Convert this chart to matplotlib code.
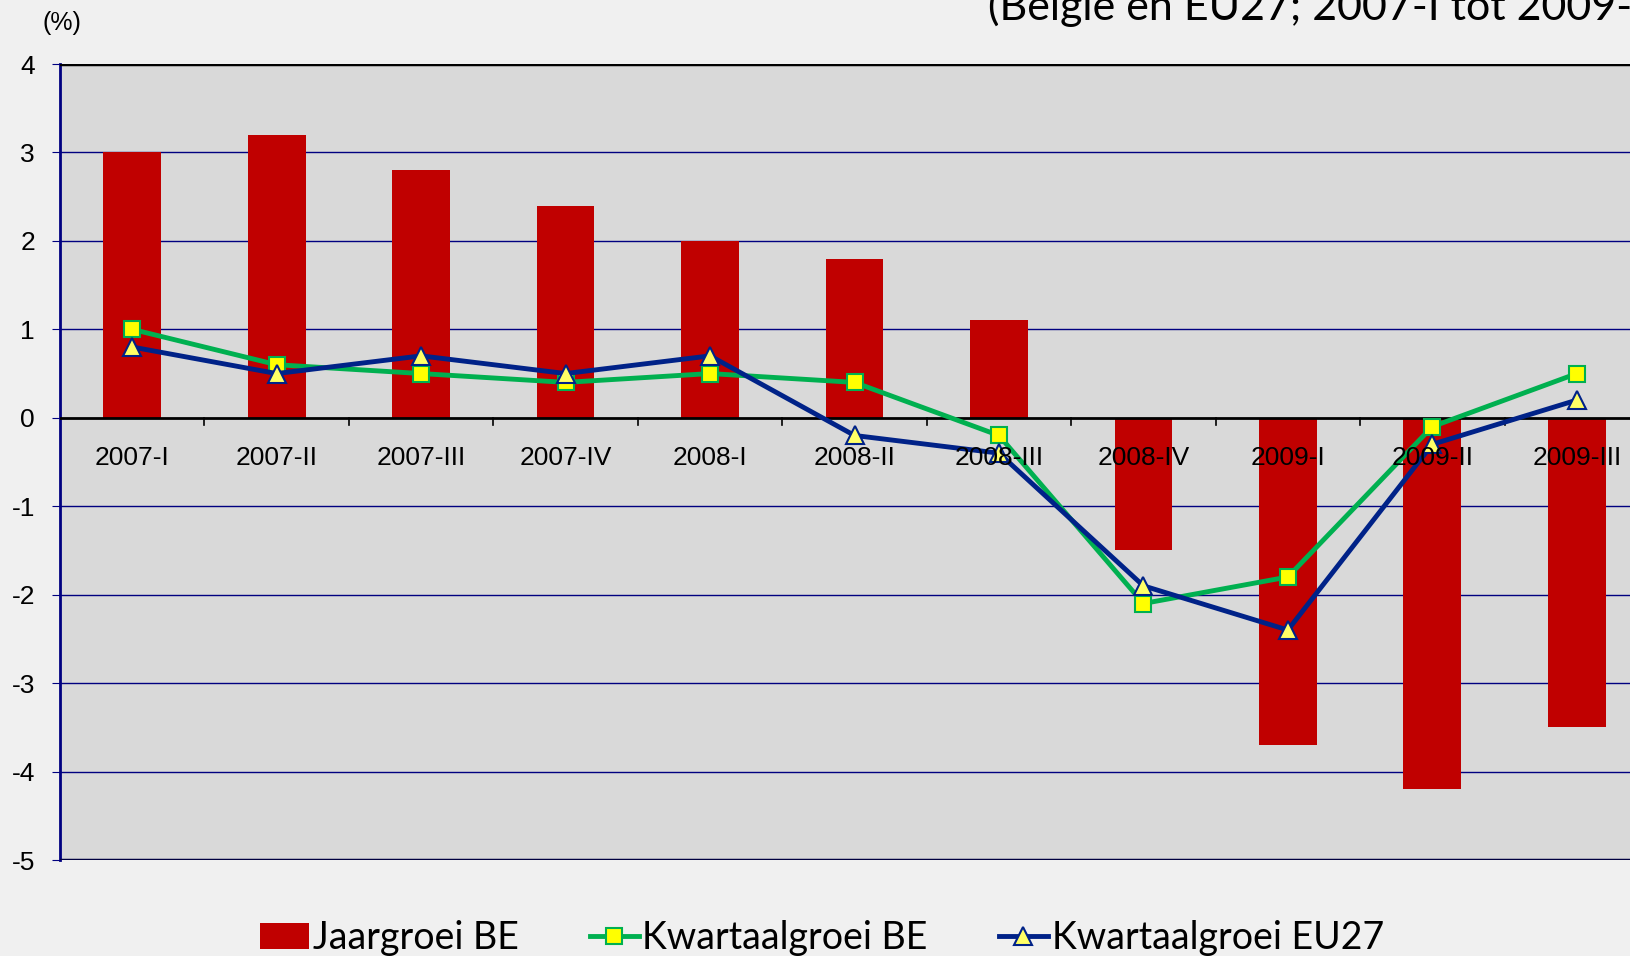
import matplotlib.pyplot as plt
import numpy as np

kwartalen = ['2007-I', '2007-II', '2007-III', '2007-IV', '2008-I', '2008-II',
             '2008-III', '2008-IV', '2009-I', '2009-II', '2009-III']
jaargroei_be = [3.0, 3.2, 2.8, 2.4, 2.0, 1.8, 1.1, -1.5, -3.7, -4.2, -3.5]
kwartaal_be = [1.0, 0.6, 0.5, 0.4, 0.5, 0.4, -0.2, -2.1, -1.8, -0.1, 0.5]
kwartaal_eu27 = [0.8, 0.5, 0.7, 0.5, 0.7, -0.2, -0.4, -1.9, -2.4, -0.3, 0.2]

plt.rcParams['axes.unicode_minus'] = False

x = np.arange(len(kwartalen))

fig = plt.figure(figsize=(16.31, 9.56), dpi=100, facecolor='#f0f0f0')
# plot area runs past the right edge, as in the cropped original
ax = fig.add_axes([60 / 1631, 1 - 860 / 956, 1589 / 1631, 796 / 956])
ax.set_facecolor('#d9d9d9')

bars = ax.bar(x, jaargroei_be, width=0.4, color='#c00000', zorder=2,
              label='Jaargroei BE')
l1, = ax.plot(x, kwartaal_be, color='#00b050', lw=3.5, marker='s', ms=12,
              mfc='#ffff00', mec='#00b050', mew=1.5, zorder=4,
              label='Kwartaalgroei BE')
l2, = ax.plot(x, kwartaal_eu27, color='#002288', lw=3.5, marker='^', ms=13,
              mfc='#ffff66', mec='#002288', mew=1.5, zorder=5,
              label='Kwartaalgroei EU27')

ax.set_ylim(-5, 4)
ax.set_xlim(-0.5, 10.5)
ax.set_yticks(range(-5, 5))
for v in range(-4, 4):
    if v != 0:
        ax.axhline(v, color='#000080', lw=1, zorder=1)
ax.axhline(4, color='black', lw=2.5, zorder=3)
ax.axhline(-5, color='#000040', lw=2.5, zorder=3)
ax.axhline(0, color='black', lw=2, zorder=3)

for s in ['top', 'right', 'bottom']:
    ax.spines[s].set_visible(False)
ax.spines['left'].set_color('#000080')
ax.spines['left'].set_linewidth(2)

ax.tick_params(axis='y', direction='out', length=6, color='#000080',
               labelsize=19, pad=12)
for lab in ax.get_yticklabels():
    lab.set_fontfamily('Liberation Sans')

ax.set_xticks([])
for i, k in enumerate(kwartalen):
    ax.text(i, -0.45, k, ha='center', va='center', fontsize=19,
            family='Liberation Sans', zorder=6)
for i in range(len(kwartalen) - 1):
    ax.plot([i + 0.5, i + 0.5], [0, -0.08], color='black', lw=1.2, zorder=3)

fig.text(62 / 1631, 1 - 23 / 956, '(%)', ha='center', va='center',
         fontsize=18, family='Liberation Sans')
fig.text(988 / 1631, 1 - 20 / 956, '(België en EU27; 2007-I tot 2009-III)',
         ha='left', va='baseline', fontsize=31, family='Lato')

fig.legend([bars, l1, l2], ['Jaargroei BE', 'Kwartaalgroei BE', 'Kwartaalgroei EU27'],
           loc='center', bbox_to_anchor=(822 / 1631, 1 - 938 / 956),
           ncol=3, frameon=False, prop={'family': 'Lato', 'size': 27},
           handlelength=1.3, handletextpad=0.1, columnspacing=1.9)

plt.savefig('out.png', dpi=100, facecolor=fig.get_facecolor())
